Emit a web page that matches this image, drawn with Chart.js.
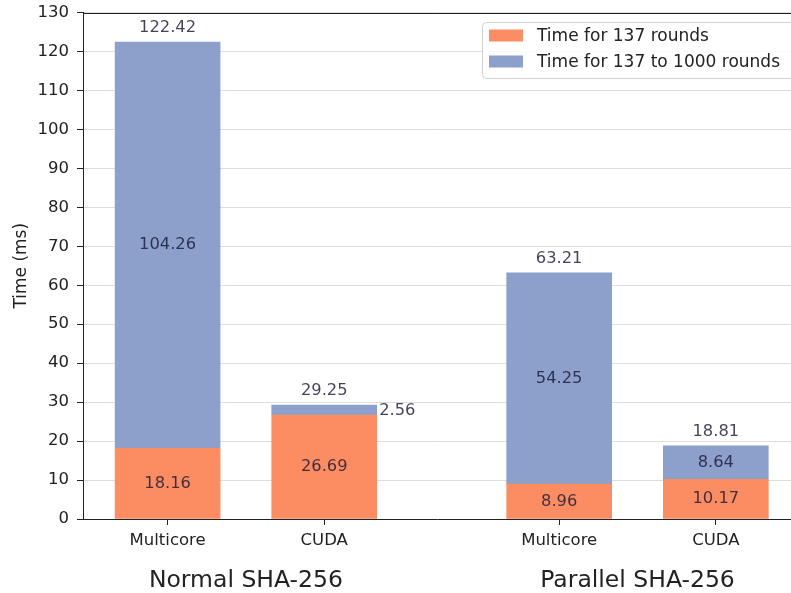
<!DOCTYPE html>
<html lang="en">
<head>
    <meta charset="UTF-8">
    <title>SHA-256 timing</title>
    <script src="https://cdn.jsdelivr.net/npm/chart.js"></script>
    <style>
        html, body { margin: 0; padding: 0; background: #fff; }
        #wrap { width: 791px; height: 593px; }
    </style>
</head>
<body>
<div id="wrap"><canvas id="myChart"></canvas></div>
<script>
    const groups = ['Normal SHA-256', 'Parallel SHA-256'];
    const implementations = ['Multicore', 'CUDA'];
    const firstRounds = [18.16, 26.69, 8.96, 10.17];
    const laterRounds = [104.26, 2.56, 54.25, 8.64];
    const totals = [122.42, 29.25, 63.21, 18.81];
    const seriesNames = ['Time for 137 rounds', 'Time for 137 to 1000 rounds'];
    const yTicks = [0, 10, 20, 30, 40, 50, 60, 70, 80, 90, 100, 110, 120, 130];

    const FONT = 'DejaVu Sans';
    const orange = '#fc8d62';
    const blue = '#8da0cb';

    // bar positions: groups separated by an extra half slot
    const xs = [];
    const xLabels = [];
    groups.forEach((g, gi) => {
        implementations.forEach((name, i) => {
            xs.push(gi * 2.5 + i);
            xLabels.push(name);
        });
    });

    const labelPlugin = {
        id: 'labels',
        afterDatasetsDraw(chart) {
            const ctx = chart.ctx;
            const x = chart.scales.x;
            const y = chart.scales.y;
            ctx.save();
            ctx.font = '16.3px "' + FONT + '"';
            ctx.textBaseline = 'middle';
            ctx.fillStyle = 'rgba(25, 25, 55, 0.82)';
            xs.forEach((pos, i) => {
                const cx = x.getPixelForValue(pos);
                ctx.textAlign = 'center';
                ctx.fillText(firstRounds[i].toFixed(2), cx, y.getPixelForValue(firstRounds[i] / 2));
                ctx.fillText(totals[i].toFixed(2), cx, y.getPixelForValue(totals[i]) - 14);
                const mid = y.getPixelForValue(firstRounds[i] + laterRounds[i] / 2);
                if (laterRounds[i] < 5) {
                    ctx.textAlign = 'left';
                    ctx.fillText(laterRounds[i].toFixed(2), cx + 55, mid + 1);
                } else {
                    ctx.fillText(laterRounds[i].toFixed(2), cx, mid);
                }
            });
            ctx.restore();
        },
        afterDraw(chart) {
            const ctx = chart.ctx;
            const area = chart.chartArea;
            const x = chart.scales.x;
            ctx.save();
            // top spine
            ctx.strokeStyle = '#222';
            ctx.lineWidth = 1;
            ctx.beginPath();
            ctx.moveTo(area.left, Math.round(area.top) + 0.5);
            ctx.lineTo(area.right, Math.round(area.top) + 0.5);
            ctx.stroke();

            // group names under the ticks
            ctx.fillStyle = '#222';
            ctx.font = '23.5px "' + FONT + '"';
            ctx.textAlign = 'center';
            ctx.textBaseline = 'middle';
            groups.forEach((g, gi) => {
                const cx = (x.getPixelForValue(gi * 2.5) + x.getPixelForValue(gi * 2.5 + 1)) / 2;
                ctx.fillText(g, cx, 581);
            });

            // legend
            const lx = 482, ly = 22, lh = 56;
            ctx.fillStyle = 'rgba(255,255,255,0.85)';
            ctx.strokeStyle = '#d0d0d0';
            ctx.beginPath();
            ctx.roundRect(lx + 0.5, ly + 0.5, 340, lh, 4);
            ctx.fill();
            ctx.stroke();
            ctx.font = '17px "' + FONT + '"';
            ctx.textAlign = 'left';
            [orange, blue].forEach((c, i) => {
                const ry = ly + 13.5 + i * 26;
                ctx.fillStyle = c;
                ctx.fillRect(489, ry - 6, 34, 12);
                ctx.fillStyle = '#222';
                ctx.fillText(seriesNames[i], 537, ry + 1);
            });
            ctx.restore();
        }
    };

    new Chart(document.getElementById('myChart'), {
        type: 'bar',
        data: {
            datasets: [{
                label: seriesNames[0],
                data: xs.map((v, i) => ({x: v, y: firstRounds[i]})),
                backgroundColor: orange,
                barThickness: 105
            }, {
                label: seriesNames[1],
                data: xs.map((v, i) => ({x: v, y: laterRounds[i]})),
                backgroundColor: blue,
                barThickness: 105
            }]
        },
        options: {
            responsive: true,
            maintainAspectRatio: false,
            animation: false,
            layout: {padding: {top: 12.5, right: 0, left: 0, bottom: 0}},
            plugins: {
                legend: {display: false},
                tooltip: {enabled: false}
            },
            scales: {
                x: {
                    type: 'linear',
                    stacked: true,
                    offset: false,
                    min: -0.54,
                    max: 3.98,
                    afterBuildTicks: scale => {
                        scale.ticks = xs.map(v => ({value: v}));
                    },
                    afterFit: scale => {
                        scale.height = 74;
                        scale.paddingLeft = 0;
                        scale.paddingRight = 0;
                    },
                    ticks: {
                        autoSkip: false,
                        maxRotation: 0,
                        padding: 6,
                        color: '#222',
                        font: {family: FONT, size: 16.5},
                        callback: (value) => xLabels[xs.indexOf(value)]
                    },
                    grid: {
                        offset: false,
                        drawOnChartArea: false,
                        tickColor: '#222',
                        tickLength: 6
                    },
                    border: {color: '#222', width: 1}
                },
                y: {
                    stacked: true,
                    min: 0,
                    max: 130,
                    afterBuildTicks: scale => {
                        scale.ticks = yTicks.map(v => ({value: v}));
                    },
                    afterFit: scale => {
                        scale.width = 83;
                        scale.paddingTop = 0;
                        scale.paddingBottom = 0;
                    },
                    ticks: {
                        padding: 8,
                        color: '#222',
                        font: {family: FONT, size: 16.5}
                    },
                    grid: {
                        color: '#dddddd',
                        tickColor: '#222',
                        tickLength: 6
                    },
                    border: {color: '#222', width: 1},
                    title: {
                        display: true,
                        text: 'Time (ms)',
                        color: '#222',
                        font: {family: FONT, size: 17},
                        padding: {top: 11, bottom: 0}
                    }
                }
            }
        },
        plugins: [labelPlugin]
    });
</script>
</body>
</html>
